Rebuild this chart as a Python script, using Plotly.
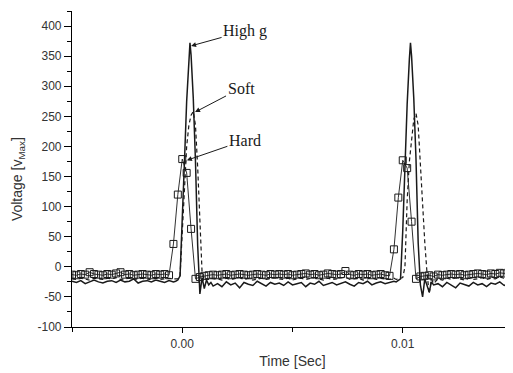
import plotly.graph_objects as go

# ---------------- data ----------------
time_line = [
    -0.005, -0.0048, -0.0046, -0.0044, -0.0042, -0.004, -0.0038, -0.0036, -0.0034, -0.0032,
    -0.003, -0.0028, -0.0026, -0.0024, -0.0022, -0.002, -0.0018, -0.0016, -0.0014, -0.0012,
    -0.001, -0.0008, -0.0006, -0.0004,
    -0.0003, -0.0002, -0.0001, 0.0, 0.0001, 0.0002, 0.0003, 0.00035, 0.0004, 0.0005,
    0.0006, 0.0007, 0.0008, 0.0009, 0.001, 0.0011, 0.0012, 0.0013, 0.0014,
    0.0016, 0.0018, 0.002, 0.0022, 0.0024, 0.0026, 0.0028, 0.003, 0.0032, 0.0034,
    0.0036, 0.0038, 0.004, 0.0042, 0.0044, 0.0046, 0.0048, 0.005, 0.0052, 0.0054,
    0.0056, 0.0058, 0.006, 0.0062, 0.0064, 0.0066, 0.0068, 0.007, 0.0072, 0.0074,
    0.0076, 0.0078, 0.008, 0.0082, 0.0084, 0.0086, 0.0088, 0.009, 0.0092, 0.0094,
    0.0095, 0.0096, 0.0097, 0.0098, 0.0099, 0.01, 0.0101, 0.0102, 0.0103, 0.01035,
    0.0104, 0.0105, 0.0106, 0.0107, 0.0108, 0.0109, 0.011, 0.0111, 0.0112, 0.0113, 0.0114,
    0.0116, 0.0118, 0.012, 0.0122, 0.0124, 0.0126, 0.0128, 0.013, 0.0132, 0.0134,
    0.0136, 0.0138, 0.014, 0.0142, 0.0144, 0.0146, 0.0148, 0.015,
]

high_g = [
    -24, -26, -23, -28, -25, -22, -25, -27, -24, -23, -26, -22, -25, -24, -20, -27,
    -24, -23, -25, -22, -24, -26, -23, -25,
    -24, -22, -15, 70, 175, 275, 350, 372, 352, 280,
    175, 35, -45, -18, -36, -22, -30, -26, -32,
    -28, -33, -25, -30, -27, -35, -26, -29, -31, -24, -28, -32, -26, -29, -27, -31,
    -25, -30, -28, -26, -33, -27, -29, -24, -31, -28, -26, -30, -27, -25, -29, -32,
    -26, -28, -24, -30, -27, -25, -28, -26,
    -26, -24, -25, -22, -20, 60, 170, 270, 345, 372,
    350, 280, 180, 40, -30, -50, -20, -30, -42, -25, -30,
    -28, -33, -26, -30, -35, -27, -29, -32, -26, -30, -28, -33, -27, -29, -25, -31,
    -28, -30,
]

soft = [
    -20, -21, -19, -20, -22, -19, -20, -21, -19, -20, -18, -21, -20, -19, -21, -20,
    -19, -22, -20, -19, -21, -20, -19, -20,
    -20, -20, -15, 60, 140, 200, 235, 245, 252, 258,
    235, 165, 85, -10, -22, -20, -21, -19, -20,
    -20, -22, -19, -21, -20, -18, -21, -19, -22, -20, -19, -21, -20, -18, -20, -21,
    -19, -22, -20, -19, -21, -20, -18, -20, -22, -19, -21, -20, -19, -17, -21, -20,
    -19, -22, -20, -18, -21, -19, -20, -21,
    -20, -19, -21, -20, -20, -18, 0, 110, 175, 195,
    215, 245, 255, 235, 170, 100, 40, -10, -45, -20, -28,
    -20, -22, -19, -21, -18, -20, -22, -19, -21, -20, -18, -21, -19, -20, -17, -19,
    -18, -16,
]

time_hard = [
    -0.005, -0.0048, -0.0046, -0.0044, -0.0042, -0.004, -0.0038, -0.0036, -0.0034, -0.0032,
    -0.003, -0.0028, -0.0026, -0.0024, -0.0022, -0.002, -0.0018, -0.0016, -0.0014, -0.0012,
    -0.001, -0.0008, -0.0006, -0.0004, -0.0002, 0.0, 0.0002, 0.0004, 0.0006, 0.0008,
    0.001, 0.0012, 0.0014, 0.0016, 0.0018, 0.002, 0.0022, 0.0024, 0.0026, 0.0028,
    0.003, 0.0032, 0.0034, 0.0036, 0.0038, 0.004, 0.0042, 0.0044, 0.0046, 0.0048,
    0.005, 0.0052, 0.0054, 0.0056, 0.0058, 0.006, 0.0062, 0.0064, 0.0066, 0.0068,
    0.007, 0.0072, 0.0074, 0.0076, 0.0078, 0.008, 0.0082, 0.0084, 0.0086, 0.0088,
    0.009, 0.0092, 0.0094, 0.0096, 0.0098, 0.01, 0.0102, 0.0104, 0.0106, 0.0108,
    0.011, 0.0112, 0.0114, 0.0116, 0.0118, 0.012, 0.0122, 0.0124, 0.0126, 0.0128,
    0.013, 0.0132, 0.0134, 0.0136, 0.0138, 0.014, 0.0142, 0.0144, 0.0146, 0.0148, 0.015,
]

hard = [
    -13, -14, -12, -13, -9, -12, -13, -14, -12, -13, -11, -9, -13, -12, -14, -13,
    -12, -13, -14, -12, -13, -12, -14,
    38, 120, 179, 156, 63, -20, -17,
    -15, -14, -13, -14, -13, -12, -14, -13, -12, -13, -14, -13, -12, -13, -14, -12,
    -13, -12,
    -13, -12, -14, -13, -12, -11, -13, -12, -14, -13, -11, -12, -13, -12, -7, -13,
    -14, -12, -13, -12, -14, -13, -12,
    -14, -15, 29, 115, 177, 164, 75, -20, -16,
    -15, -14, -16, -13, -14, -13, -12, -13, -12, -14, -13, -12, -11, -12, -13, -11,
    -12, -10, -11, -9, -10,
]

y_tick_vals = [-100, -50, 0, 50, 100, 150, 200, 250, 300, 350, 400]
y_tick_text = ["-100", "-50", "0", "50", "100", "150", "200", "250", "300", "350", "400"]
x_tick_vals = [0.0, 0.01]
x_tick_text = ["0.00", "0.01"]

labels = ["High g", "Soft", "Hard"]
label_points = [(0.0004, 367), (0.00058, 257), (0.00021, 177)]
label_offsets = [(54, -15), (46, -24), (58, -20)]

# ---------------- figure ----------------
# The page body has an 8px default margin, so the figure is sized 8px smaller
# and its margins are shifted to land the plot area where the reference has it.
ink = "#1a1a1a"
fig = go.Figure()
fig.add_trace(go.Scatter(x=time_line, y=high_g, mode="lines",
                         line=dict(color=ink, width=1.5), name="High g"))
fig.add_trace(go.Scatter(x=time_line, y=soft, mode="lines",
                         line=dict(color=ink, width=1.2, dash="4px,3px"), name="Soft"))
fig.add_trace(go.Scatter(x=time_hard, y=hard, mode="lines+markers",
                         line=dict(color=ink, width=0.9),
                         marker=dict(symbol="square-open", size=7, color=ink,
                                     line=dict(width=1)),
                         name="Hard"))

for lab, (px, py), (ax, ay) in zip(labels, label_points, label_offsets):
    fig.add_annotation(x=px, y=py, text=lab, showarrow=True, ax=ax, ay=ay,
                       arrowhead=2, arrowsize=1, arrowwidth=1, arrowcolor=ink,
                       font=dict(family="Liberation Serif, Times New Roman, serif",
                                 size=16, color=ink))

sans = "Liberation Sans, Arial, sans-serif"
axis_font = dict(family=sans, size=12, color="#333333")

# y-axis title placed as rotated text, centred where the reference has it
fig.add_annotation(text="Voltage [v<sub>Max</sub>]", textangle=-90, showarrow=False,
                   xref="paper", yref="paper", x=0, y=0.468, xanchor="center",
                   yanchor="middle", xshift=-54,
                   font=dict(family=sans, size=14, color="#333333"))

fig.update_layout(
    width=505, height=365,
    margin=dict(l=64, r=0, t=3, b=46),
    paper_bgcolor="white", plot_bgcolor="white",
    showlegend=False,
    xaxis=dict(range=[-0.005, 0.015], tickvals=x_tick_vals, ticktext=x_tick_text,
               ticks="outside", ticklen=5, tickwidth=1, tickcolor="black",
               minor=dict(dtick=0.005, tick0=0, ticks="outside", ticklen=4,
                          tickcolor="black", showgrid=False),
               showline=True, linecolor="black", linewidth=1.2,
               showgrid=False, zeroline=False, tickfont=axis_font,
               title=dict(text="Time [Sec]", font=dict(family=sans, size=14, color="#333333"),
                          standoff=6)),
    yaxis=dict(range=[-100, 425], tickvals=y_tick_vals, ticktext=y_tick_text,
               ticks="outside", ticklen=7, tickwidth=1, tickcolor="black",
               minor=dict(dtick=25, tick0=0, ticks="outside", ticklen=4,
                          tickcolor="black", showgrid=False),
               showline=True, linecolor="black", linewidth=1.2,
               showgrid=False, zeroline=False, tickfont=axis_font),
)

fig.write_html("out.html")
